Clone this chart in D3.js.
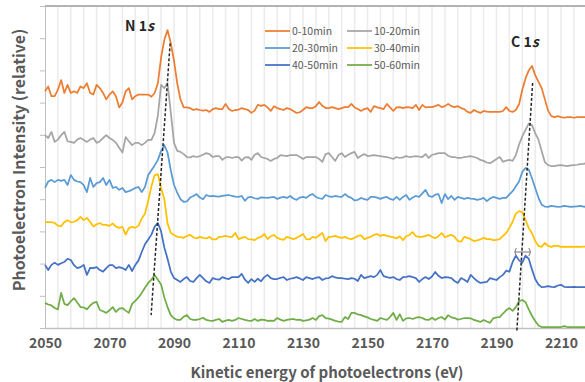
<!DOCTYPE html>
<html>
<head>
<meta charset="utf-8">
<script src="https://cdn.jsdelivr.net/npm/d3@7"></script>
<style>
  body { margin: 0; background: #fff; }
  svg { display: block; font-family: "Noto Sans CJK JP", "Noto Sans", sans-serif; }
</style>
</head>
<body>
<svg id="chart" width="585" height="382"></svg>
<script>
// spectra sampled every 1 eV starting at 2050 eV (relative intensity, stacked)
const energyStart = 2050;
const energyStep = 1;

const series0_10 = [
  73.5, 75, 72, 72, 74, 77, 73, 75.5, 73, 73.5,
  73, 75, 74.5, 76, 73, 72.5, 75.5, 74.5, 73, 71,
  72.5, 73.5, 72, 68.5, 70, 73.5, 74.5, 71, 72, 72.5,
  72.5, 72.5, 72.5, 71.8, 73, 76, 84, 89.5, 92.5, 88.5,
  83, 76, 71, 68.5, 68.5, 68.3, 67.7, 68, 67.7, 67.5,
  67.7, 67.1, 68, 68.3, 68, 68, 69.6, 68, 67.4, 67.7,
  67.8, 68.3, 68, 67.7, 66.8, 67.5, 69.3, 69, 69.3, 68.5,
  67.4, 68.9, 68.3, 68, 67.7, 68.3, 68, 67.4, 66.8, 67,
  67.7, 68.6, 68.3, 68.3, 68.9, 70.2, 69, 68.3, 68.3, 68.6,
  68.3, 68, 68.3, 68.6, 68.6, 69.6, 68.5, 68, 67.4, 68,
  68.3, 67.1, 68.9, 68.5, 68.3, 68, 69.6, 68.5, 67.4, 68.5,
  68.6, 68.3, 68.6, 68.5, 68.3, 69.3, 67.7, 69.3, 68.5, 68.6,
  68.6, 68.9, 69.3, 68.6, 68.9, 69.6, 68.9, 68.6, 68.9, 68.3,
  68, 67.1, 66.8, 67.7, 67.2, 66.8, 67.4, 67.2, 67.1, 67.1,
  67.1, 67.1, 67.4, 68.6, 67.4, 67.1, 67.7, 69.5, 74, 77.5,
  80, 81.4, 78.5, 76.5, 74.5, 71, 67.5, 65.8, 65.5, 65.8,
  65.5, 65.3, 65.5, 65.5, 65.3, 65.5, 65.5, 65.5, 65.5
];

const series10_20 = [
  59.9, 59, 60.9, 57.8, 58.5, 59.9, 60.9, 58, 57.8, 57.5,
  58.5, 59, 58.4, 57.8, 58.5, 59, 57.5, 58, 59, 59.9,
  59, 58.4, 57.5, 56, 54.5, 59.3, 58, 56.8, 57.5, 57.5,
  56.8, 57.5, 58.4, 58.4, 60.6, 66, 75.5, 74.5, 76, 67,
  57.5, 55, 54.7, 54, 53.1, 53, 53.4, 53.1, 53.4, 53.8,
  54.3, 54, 53.1, 53.4, 53.4, 52.2, 53, 53.1, 52.8, 53.1,
  53.1, 52, 53, 53.1, 52.2, 53.8, 54.3, 53.1, 52.8, 52.5,
  51.9, 52.5, 52.8, 53.7, 53.5, 53.4, 53.7, 53.7, 53.7, 53.2,
  52.5, 53.1, 53.1, 53.1, 53.1, 52.5, 51.6, 54, 54.3, 53.1,
  51.9, 53.7, 54.3, 53.1, 53.8, 54.3, 54.7, 52.8, 53.5, 54,
  53.4, 53.5, 53.7, 53.5, 53.4, 53.2, 53.1, 52.8, 52.5, 53.1,
  52.8, 53, 53.4, 53.1, 53.2, 53.4, 53.2, 53.1, 54, 52.8,
  53.8, 54, 54.3, 54.3, 54.3, 53.5, 53.1, 53.1, 52.8, 52.8,
  53.1, 53.2, 53.4, 53.1, 52.8, 52.2, 51.9, 51.4, 51.2, 51.8,
  52.5, 53.1, 51.6, 52, 52.2, 51.9, 53.7, 57, 59.5, 61.5,
  63.5, 63, 60.5, 58.5, 55, 51.5, 50.6, 50.3, 50.3, 50.5,
  50.6, 50.4, 50.3, 50.5, 50.6, 50.7, 50.9, 51, 51.2
];

const series20_30 = [
  43.5, 45.5, 46, 45.3, 46, 45.7, 46, 44.4, 47.5, 46,
  45.5, 45.3, 44.4, 42.2, 46.6, 43.8, 45, 45.3, 46.6, 44.4,
  46, 43.5, 43.8, 42.9, 43.5, 42.2, 42.5, 42.9, 43.5, 43.8,
  42.2, 43.8, 47.5, 49, 50.5, 52.2, 55, 56.8, 54.5, 49,
  44.5, 42, 40, 39.2, 39.3, 40.5, 41, 41.6, 40.5, 40,
  41.3, 40.9, 41, 40.9, 40.8, 41, 41.2, 41.3, 41, 40.8,
  40.7, 41, 39.5, 40.6, 40.7, 40.3, 40.1, 40.6, 40.5, 40.4,
  40.6, 40.7, 40.1, 40.5, 40.7, 40.4, 41, 40.2, 39.8, 40.5,
  40.7, 40.4, 41.2, 41.6, 40.7, 40.3, 40.1, 41.3, 40.9, 40.7,
  41, 40.8, 40.7, 41.6, 40.8, 40.4, 39.6, 39.8, 40.4, 40,
  39.8, 40.7, 40.7, 40.5, 40.1, 40.5, 40.7, 40.1, 39.8, 40.7,
  39.8, 40.7, 41.3, 39.8, 40.5, 41, 40.7, 41.8, 42.9, 41,
  40.7, 41.4, 41.6, 38.8, 41.6, 40, 41, 39.8, 40.7, 40.4,
  40.1, 40.4, 40.2, 40.1, 39.8, 40, 40.4, 39.4, 40.2, 40.7,
  40.4, 40.1, 40.4, 40.4, 41.5, 42.5, 44, 45.5, 48.5, 49.7,
  49.2, 46.5, 43.5, 40.5, 38.3, 37.7, 37.6, 37.9, 37.8, 37.6,
  37.7, 37.9, 37.8, 37.6, 37.7, 37.8, 37.9, 37.7, 37.6
];

const series30_40 = [
  32.9, 32.9, 32.9, 32.6, 31.8, 31.6, 32.9, 33.5, 32.8, 33,
  33.5, 34.5, 33.5, 34.2, 32.9, 31.5, 32.2, 32.6, 32, 32,
  31.7, 32.5, 31.5, 31.1, 31.4, 29, 31, 31.4, 31.1, 31.8,
  34, 35.5, 39.5, 44, 47.5, 47.8, 43.5, 40, 32.5, 29.5,
  28.9, 28.3, 28.2, 28, 28.6, 28.9, 28.2, 27.8, 28.3, 28,
  27.8, 28.3, 27.5, 27.5, 28.3, 28.4, 28.6, 28.4, 28.3, 29.5,
  27.6, 28, 28.3, 27.6, 27.5, 27.3, 28, 28.3, 29.2, 27.6,
  28.5, 28.9, 28, 27.6, 27.4, 28.3, 28, 27.6, 28, 28.6,
  29.2, 27.6, 27.5, 28.3, 28, 28.8, 29.5, 27, 28.3, 28.4,
  28.6, 28.2, 28, 28.3, 27.8, 27.6, 28, 28.6, 28.8, 27.6,
  28, 28.3, 28.9, 29.2, 28.6, 28.9, 28.6, 28.4, 28.2, 27.8,
  28.5, 27.3, 28.5, 28.9, 29.8, 28.5, 28.3, 28.3, 28.6, 28.9,
  28.3, 27.9, 28.5, 29.5, 28.2, 28.6, 28.9, 28.3, 27, 26.8,
  28.3, 28, 27.6, 27, 27.2, 27.5, 28, 27.6, 27.6, 27.3,
  27.4, 27.6, 28.6, 29.5, 31.1, 33, 35.5, 36.3, 36, 33.5,
  31, 29.5, 27, 25.5, 25.2, 26.4, 25.5, 25.2, 25.6, 25.5,
  25.2, 25.3, 25.2, 25.3, 25.2, 25.3, 25.2, 25.3, 25.2
];

const series40_50 = [
  19.6, 18, 19.6, 20.3, 19.6, 20.1, 20.5, 21.5, 21.1, 19.5,
  18.6, 18.9, 19.6, 16.5, 18.7, 18.6, 18.9, 18, 17.5, 18.6,
  19.5, 19.5, 18.6, 18.9, 18.6, 18, 19.6, 17.7, 19.6, 21,
  23.6, 26, 27.5, 29, 31.5, 32.6, 30, 25, 21.5, 17.5,
  15.5, 14.9, 14.3, 15.2, 15.8, 14.6, 14.3, 15.5, 16.5, 15.5,
  14.5, 14, 15.5, 15.2, 15, 15.8, 15.4, 15.2, 15.8, 15.8,
  15.8, 16.8, 15, 14, 15.2, 14.3, 15.3, 14.5, 15.8, 16.5,
  15.5, 15.2, 15.2, 15.6, 15.8, 14.9, 15.3, 15.5, 15.8, 15.4,
  14.9, 15.8, 15.5, 15.2, 15.6, 15.8, 14.9, 15.4, 15.5, 16.1,
  15.7, 15.5, 15.5, 15.3, 15.2, 15.5, 15.3, 14.6, 16.5, 15.5,
  15.8, 16.1, 15.8, 16.5, 18, 16.1, 15.8, 15.6, 15.8, 15.2,
  14.9, 15.8, 15.9, 16.1, 15.8, 15.5, 14.3, 15.2, 15.8, 15.2,
  16, 17.4, 16.2, 15.5, 15.8, 15.7, 15.5, 14.6, 14, 15.5,
  15, 14.3, 16.5, 15.5, 14.6, 14, 14.2, 14.3, 15.5, 15.2,
  14.9, 15.8, 16.5, 17.8, 17.5, 20.5, 22.5, 21, 20.3, 22.5,
  21.5, 18.2, 15.2, 13.5, 12.7, 12.8, 13, 12.8, 12.7, 13.2,
  13.4, 12.8, 12.7, 12.7, 12.8, 12.7, 12.7, 12.7, 12.7
];

const series50_60 = [
  7.8, 7.3, 7, 6.2, 5.8, 10.9, 7.5, 7.1, 8.3, 9.3,
  7.9, 6.5, 6.4, 5.8, 7, 7.8, 8.1, 5.6, 5.2, 4.7,
  5.5, 6.5, 5, 6, 6.2, 5.4, 4.7, 7.5, 8.4, 9.5,
  10.9, 12.5, 14, 15, 16.5, 15, 13.5, 9.5, 6.5, 4,
  3, 2.5, 2.5, 3.5, 4, 2.8, 2.5, 2.5, 2.8, 3.2,
  2.5, 2.3, 2.2, 2.5, 2.8, 1.9, 2.3, 2.5, 2.2, 2.5,
  3.1, 2.8, 2.5, 2.3, 2.2, 2.8, 2.2, 2.6, 2.5, 2.2,
  2.3, 2.2, 3.1, 2.6, 2.2, 2.5, 2.7, 2.8, 2.5, 2.6,
  2.2, 2.4, 2.6, 3.1, 2.5, 3.7, 4, 3.1, 2.9, 2.6,
  2.2, 2, 1.9, 3.4, 2.8, 4.7, 4.7, 4.2, 4, 3.6,
  3.3, 2.8, 2.5, 2.2, 3.1, 2.8, 2.5, 3.4, 4.7, 2.5,
  4.3, 2.2, 3, 3.1, 2.8, 3.2, 3.4, 3.1, 2.6, 2.5,
  3.2, 2.5, 3.1, 3.4, 2.6, 4, 3.3, 3.1, 2.6, 2.8,
  3.1, 3.1, 3, 2.5, 2.2, 1.9, 2.5, 2, 1.6, 3,
  3.3, 3.4, 4.5, 5.5, 6.2, 5.3, 6.5, 8.3, 8.7, 8,
  5.8, 3.8, 2.2, 0.8, 0.3, 0.3, 0.3, 0.3, 0.3, 0.3,
  0.3, 0.6, 0.3, 0.3, 0.3, 0.3, 0.3, 0.3, 0.3
];

const seriesNames = ['0-10min', '10-20min', '20-30min', '30-40min', '40-50min', '50-60min'];
const seriesColors = ['#ED7D31', '#A5A5A5', '#5B9BD5', '#FFC000', '#4472C4', '#70AD47'];
const seriesData = [series0_10, series10_20, series20_30, series30_40, series40_50, series50_60];

const xTickValues = [2050, 2070, 2090, 2110, 2130, 2150, 2170, 2190, 2210];

// peak-shift guides: [energy, intensity] end points
const guideN = [[2088.8, 88.4], [2082.9, 4.0]];
const guideC = [[2201.2, 76.1], [2196.3, -1.1]];
const peakLabels = [
  { main: 'N 1', sub: 's', energy: 2079.3, value: 92.2 },
  { main: 'C 1', sub: 's', energy: 2198.8, value: 87.3 }
];
const splitMark = { energy: 2198.1, value: 23.6, halfWidth: 2.5 };

const width = 585;
const height = 382;
const margin = { top: 6, left: 45, bottom: 54 };
const pxPerEv = 3.225;

const svg = d3.select('#chart');

const x = d3.scaleLinear()
  .domain([2050, 2230])
  .range([margin.left, margin.left + 180 * pxPerEv]);

const y = d3.scaleLinear()
  .domain([0, 100])
  .range([height - margin.bottom, margin.top]);

// vertical gridlines every 4 eV
svg.append('g')
  .attr('class', 'grid')
  .selectAll('line')
  .data(d3.range(2054, 2231, 4))
  .enter()
  .append('line')
  .attr('x1', d => x(d))
  .attr('x2', d => x(d))
  .attr('y1', y(0))
  .attr('y2', y(100))
  .attr('stroke', '#ebebeb')
  .attr('stroke-width', 1.5);

// top frame line
svg.append('line')
  .attr('x1', x(2050))
  .attr('x2', width)
  .attr('y1', y(100))
  .attr('y2', y(100))
  .attr('stroke', '#b3b3b3')
  .attr('stroke-width', 2);

// left axis, ticks only
const yAxis = svg.append('g')
  .attr('transform', `translate(${margin.left},0)`)
  .call(d3.axisLeft(y).tickValues(d3.range(0, 101, 10)).tickSize(5).tickFormat(''));
yAxis.select('.domain').attr('stroke', '#bfbfbf').attr('stroke-width', 1);
yAxis.selectAll('.tick line').attr('stroke', '#bfbfbf');

// bottom axis
const xAxis = svg.append('g')
  .attr('transform', `translate(0,${y(0)})`)
  .call(d3.axisBottom(x).tickValues(xTickValues).tickSize(0).tickPadding(10).tickFormat(d3.format('d')));
xAxis.select('.domain').attr('stroke', '#bfbfbf').attr('stroke-width', 1.5);
xAxis.selectAll('.tick text')
  .attr('fill', '#595959')
  .attr('font-size', '14px')
  .attr('font-weight', 'bold')
  .attr('font-family', '"Noto Sans CJK JP", "Noto Sans", sans-serif');

// spectra
const line = d3.line()
  .x((d, i) => x(energyStart + i * energyStep))
  .y(d => y(d));

svg.append('g')
  .attr('class', 'series')
  .selectAll('path')
  .data(seriesData)
  .enter()
  .append('path')
  .attr('d', d => line(d))
  .attr('fill', 'none')
  .attr('stroke', (d, i) => seriesColors[i])
  .attr('stroke-width', 1.75)
  .attr('stroke-linejoin', 'round');

// small bracket over the split C 1s peak
const bx0 = x(splitMark.energy - splitMark.halfWidth);
const bx1 = x(splitMark.energy + splitMark.halfWidth);
const by = y(splitMark.value);
const bracket = svg.append('g')
  .attr('fill', 'none')
  .attr('stroke', '#8c8c8c')
  .attr('stroke-width', 1.2);
bracket.append('line').attr('x1', bx0).attr('x2', bx1).attr('y1', by).attr('y2', by);
bracket.append('path').attr('d', `M${bx0 + 2},${by - 4} Q${bx0 - 1},${by} ${bx0 + 2},${by + 4}`);
bracket.append('path').attr('d', `M${bx1 - 2},${by - 4} Q${bx1 + 1},${by} ${bx1 - 2},${by + 4}`);

// dashed guides through the peak maxima
[guideN, guideC].forEach(g => {
  svg.append('line')
    .attr('x1', x(g[0][0]))
    .attr('y1', y(g[0][1]))
    .attr('x2', x(g[1][0]))
    .attr('y2', y(g[1][1]))
    .attr('stroke', '#262626')
    .attr('stroke-width', 1.5)
    .attr('stroke-dasharray', '3,2');
});

// peak labels
peakLabels.forEach(p => {
  const t = svg.append('text')
    .attr('x', x(p.energy))
    .attr('y', y(p.value))
    .attr('text-anchor', 'middle')
    .attr('font-size', '14px')
    .attr('font-weight', 'bold')
    .attr('fill', '#262626');
  t.append('tspan').text(p.main);
  t.append('tspan').attr('font-style', 'italic').text(p.sub);
});

// legend
const legend = svg.append('g').attr('class', 'legend');
const legendCols = [265, 347];
const legendRows = [31, 48, 65];
seriesNames.forEach((name, i) => {
  const lx = legendCols[i % 2];
  const ly = legendRows[Math.floor(i / 2)];
  legend.append('line')
    .attr('x1', lx)
    .attr('x2', lx + 25)
    .attr('y1', ly)
    .attr('y2', ly)
    .attr('stroke', seriesColors[i])
    .attr('stroke-width', 1.75);
  legend.append('text')
    .attr('x', lx + 27)
    .attr('y', ly)
    .attr('dy', '0.35em')
    .attr('font-size', '10.5px')
    .attr('fill', '#595959')
    .text(name);
});

// axis titles
svg.append('text')
  .attr('x', 327)
  .attr('y', 378)
  .attr('text-anchor', 'middle')
  .attr('font-size', '15px')
  .attr('font-weight', 'bold')
  .attr('fill', '#595959')
  .text('Kinetic energy of photoelectrons (eV)');

svg.append('text')
  .attr('transform', 'translate(25,160) rotate(-90)')
  .attr('text-anchor', 'middle')
  .attr('font-size', '16px')
  .attr('font-weight', 'bold')
  .attr('fill', '#595959')
  .text('Photoelectron Intensity (relative)');
</script>
</body>
</html>
